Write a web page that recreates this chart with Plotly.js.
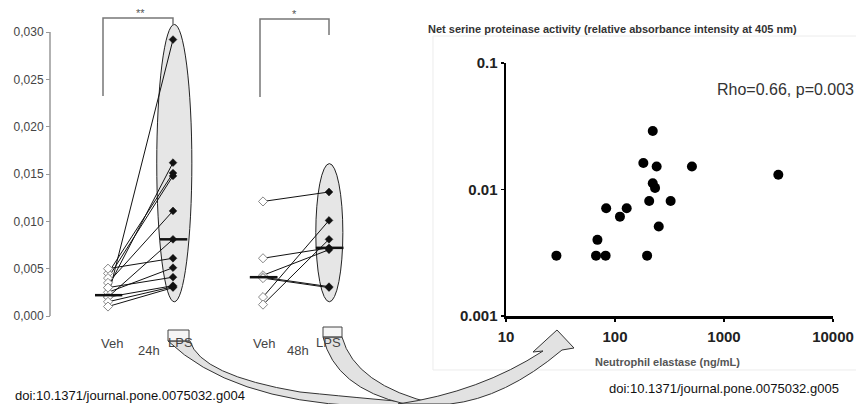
<!DOCTYPE html>
<html><head><meta charset="utf-8">
<script src="https://cdn.plot.ly/plotly-3.0.1.min.js"></script>
<style>html,body{margin:0;padding:0;background:#fff}#chart{width:856px;height:404px}</style>
</head><body><div id="chart"></div>
<script>
// ---------------- data ----------------
const groupLabels = ['Veh', 'LPS'];
const timeLabels = ['24h', '48h'];
const veh24 = [0.0020, 0.0030, 0.0045, 0.0040, 0.0035, 0.0020, 0.0050, 0.0025, 0.0030, 0.0020, 0.0015, 0.0010];
const lps24 = [0.0292, 0.0162, 0.0151, 0.0148, 0.0111, 0.0081, 0.0061, 0.0051, 0.0041, 0.0032, 0.0031, 0.0030];
const veh48 = [0.0121, 0.0061, 0.0043, 0.0041, 0.0040, 0.0020, 0.0012];
const lps48 = [0.0131, 0.0072, 0.0070, 0.0031, 0.0030, 0.0101, 0.0081];
const median24 = [0.0022, 0.0081];
const median48 = [0.0041, 0.0072];
const signif = ['**', '*'];
const leftTickVals = [0, 0.005, 0.010, 0.015, 0.020, 0.025, 0.030];
const leftTickText = ['0,000', '0,005', '0,010', '0,015', '0,020', '0,025', '0,030'];

const elastase = [222, 182, 241, 508, 3150, 222, 233, 206, 324, 83, 128, 111, 252, 69, 29, 67, 82, 197];
const activity = [0.029, 0.0162, 0.0152, 0.0152, 0.0131, 0.0112, 0.0103, 0.0081, 0.0081, 0.0071, 0.0071, 0.0061, 0.0051, 0.0040, 0.0030, 0.0030, 0.0030, 0.0030];
const logXTicks = [10, 100, 1000, 10000];
const logXText = ['10', '100', '1000', '10000'];
const logYTicks = [0.001, 0.01, 0.1];
const logYText = ['0.001', '0.01', '0.1'];
const corrText = 'Rho=0.66, p=0.003';
const rightTitle = 'Net serine proteinase activity (relative absorbance intensity at 405 nm)';
const rightXTitle = 'Neutrophil elastase (ng/mL)';
const doiLeft = 'doi:10.1371/journal.pone.0075032.g004';
const doiRight = 'doi:10.1371/journal.pone.0075032.g005';

// ---------------- layout helpers (pixel -> paper) ----------------
const W = 856, H = 404;
const px = x => x / W;
const py = y => 1 - y / H;
function path(cmds) {
  return cmds.map(c => {
    if (c[0] === 'Z') return 'Z';
    let s = c[0];
    for (let i = 1; i < c.length; i += 2) s += ' ' + px(c[i]).toFixed(5) + ',' + py(c[i + 1]).toFixed(5);
    return s;
  }).join(' ');
}
function linAxis(v0, p0, v1, p1, a, b) {
  const k = (v1 - v0) / (p1 - p0);
  return {range: [v0 + (a - p0) * k, v0 + (b - p0) * k]};
}
const X24 = linAxis(0, 108, 1, 173, 80, 205);
const X48 = linAxis(0, 263, 1, 329, 225, 360);
const ky = 0.030 / (32 - 316);
const yRange = [(324 - 316) * ky, (12 - 316) * ky];

function pairTrace(veh, lps, xa) {
  const x = [], y = [];
  veh.forEach((v, i) => { x.push(0, 1, null); y.push(v, lps[i], null); });
  return {x, y, xaxis: xa, yaxis: 'y', mode: 'lines', line: {color: '#111', width: 1}, hoverinfo: 'skip', showlegend: false};
}
function pts(vals, pos, xa, open) {
  return {x: vals.map(() => pos), y: vals, xaxis: xa, yaxis: 'y', mode: 'markers', showlegend: false,
    marker: open ? {symbol: 'diamond', size: 7, color: '#fff', line: {color: '#888', width: 1}}
                 : {symbol: 'diamond', size: 6, color: '#111', line: {color: '#111', width: 0.5}}};
}
function medTrace(med, xa) {
  return {x: [-0.2, 0.22, null, 0.8, 1.22], y: [med[0], med[0], null, med[1], med[1]], xaxis: xa, yaxis: 'y',
    mode: 'lines', line: {color: '#111', width: 2.5}, showlegend: false, hoverinfo: 'skip'};
}

const traces = [
  pairTrace(veh24, lps24, 'x'), pts(veh24, 0, 'x', true), pts(lps24, 1, 'x', false), medTrace(median24, 'x'),
  pairTrace(veh48, lps48, 'x2'), pts(veh48, 0, 'x2', true), pts(lps48, 1, 'x2', false), medTrace(median48, 'x2'),
  {x: elastase, y: activity, xaxis: 'x3', yaxis: 'y3', mode: 'markers', showlegend: false,
   marker: {color: '#000', size: 10}}
];

const FONT = 'Liberation Sans, Arial, sans-serif';
const gray = '#777';
const shapes = [];
shapes.push({type: 'circle', xref: 'x', yref: 'y', layer: 'below', x0: 0.75, x1: 1.29,
  y0: Math.min(...lps24) - 0.0015, y1: Math.max(...lps24) + 0.0016, fillcolor: '#e6e6e6', line: {color: '#222', width: 1}});
shapes.push({type: 'circle', xref: 'x2', yref: 'y', layer: 'below', x0: 0.8, x1: 1.21,
  y0: Math.min(...lps48) - 0.0015, y1: Math.max(...lps48) + 0.003, fillcolor: '#e6e6e6', line: {color: '#222', width: 1}});
shapes.push({type: 'line', xref: 'paper', yref: 'y', x0: px(50), x1: px(50), y0: 0, y1: 0.030, line: {color: '#999', width: 1.5}});
[[103, 173, 18, 96, 25], [260, 329, 19, 97, 35]].forEach(b => {
  shapes.push({type: 'path', xref: 'paper', yref: 'paper', path: path([['M', b[0], b[3]], ['L', b[0], b[2]], ['L', b[1], b[2]], ['L', b[1], b[4]]]),
    line: {color: gray, width: 1.5}});
});
shapes.push({type: 'path', xref: 'paper', yref: 'paper', path: path([['M', 856, 36], ['L', 433, 36], ['L', 433, 370], ['L', 856, 370]]),
  line: {color: '#ececec', width: 1}});
const arrowStyle = {fillcolor: '#e2e2e2', line: {color: '#333', width: 1}, layer: 'above', xref: 'paper', yref: 'paper', type: 'path'};
shapes.push(Object.assign({}, arrowStyle, {path: path([['M', 168, 341], ['L', 190, 341], ['Q', 200, 375, 300, 392], ['Q', 380, 400, 432, 404], ['L', 360, 406], ['Q', 230, 400, 168, 341], ['Z']])}));
shapes.push(Object.assign({}, arrowStyle, {path: path([['M', 323, 337], ['L', 342, 337], ['Q', 355, 385, 435, 404], ['L', 405, 404], ['Q', 335, 388, 323, 337], ['Z']])}));
shapes.push(Object.assign({}, arrowStyle, {path: path([['M', 398, 404], ['Q', 480, 392, 543, 351], ['L', 533, 352], ['L', 557, 330], ['L', 574, 348], ['L', 562, 350], ['Q', 505, 398, 450, 404], ['Z']])}));
shapes.push({type: 'rect', xref: 'paper', yref: 'paper', layer: 'above', x0: px(168), x1: px(189), y0: py(341), y1: py(330), fillcolor: 'rgba(230,230,230,0.4)', line: {color: '#444', width: 1}});
shapes.push({type: 'rect', xref: 'paper', yref: 'paper', layer: 'above', x0: px(323), x1: px(342), y0: py(337), y1: py(327), fillcolor: 'rgba(230,230,230,0.4)', line: {color: '#444', width: 1}});

function ann(text, x, y, size, color, opts) {
  return Object.assign({text, x: px(x), y: py(y), xref: 'paper', yref: 'paper', showarrow: false,
    xanchor: 'center', yanchor: 'middle', font: {family: FONT, size, color}}, opts || {});
}
const annotations = [
  ann(groupLabels[0], 112, 343, 13, '#444'), ann(timeLabels[0], 149, 350, 13, '#444'), ann(groupLabels[1], 180, 342, 13, '#444'),
  ann(groupLabels[0], 264, 343, 13, '#444'), ann(timeLabels[1], 298, 350, 13, '#444'), ann(groupLabels[1], 328, 342, 13, '#444'),
  ann(signif[0], 140, 13, 11, '#555'), ann(signif[1], 294, 14, 11, '#555'),
  ann(doiLeft, 13, 395, 13, '#111', {xanchor: 'left'}),
  ann(doiRight, 607, 388, 13, '#111', {xanchor: 'left'}),
  ann(rightTitle, 426, 29, 11, '#333', {xanchor: 'left', font: {family: FONT, size: 11, color: '#333', weight: 'bold'}}),
  ann(corrText, 715, 90, 16, '#333', {xanchor: 'left'}),
  ann(rightXTitle, 667, 362, 11, '#555', {font: {family: FONT, size: 11, color: '#555', weight: 'bold'}})
];

const layout = {
  width: W, height: H, margin: {l: 0, r: 0, t: 0, b: 0}, paper_bgcolor: '#fff', plot_bgcolor: 'rgba(0,0,0,0)',
  showlegend: false, font: {family: FONT},
  xaxis: {domain: [px(80), px(205)], range: X24.range, visible: false, anchor: 'y'},
  xaxis2: {domain: [px(225), px(360)], range: X48.range, visible: false, anchor: 'y'},
  yaxis: {domain: [py(324), py(12)], range: yRange, anchor: 'free', position: px(50), showgrid: false, zeroline: false,
    showline: false, ticks: 'outside', ticklen: 4, tickcolor: '#999', tickwidth: 1,
    tickvals: leftTickVals, ticktext: leftTickText, tickfont: {family: FONT, size: 12, color: '#444'}},
  xaxis3: {type: 'log', domain: [px(506), px(833)], range: [1, 4], anchor: 'y3', showgrid: false, zeroline: false,
    showline: true, linecolor: '#000', linewidth: 2.5, ticks: 'outside', ticklen: 3, tickwidth: 1.5, tickcolor: '#000',
    tickvals: logXTicks, ticktext: logXText, ticklabelstandoff: 2,
    tickfont: {family: FONT, size: 15, color: '#222', weight: 'bold'}},
  yaxis3: {type: 'log', domain: [py(316), py(63)], range: [-3, -1], anchor: 'x3', showgrid: false, zeroline: false,
    showline: true, linecolor: '#000', linewidth: 2.5, ticks: 'outside', ticklen: 3, tickwidth: 1.5, tickcolor: '#000',
    tickvals: logYTicks, ticktext: logYText,
    tickfont: {family: FONT, size: 15, color: '#222', weight: 'bold'}},
  shapes, annotations
};
Plotly.newPlot('chart', traces, layout, {staticPlot: true, displayModeBar: false});
</script></body></html>
